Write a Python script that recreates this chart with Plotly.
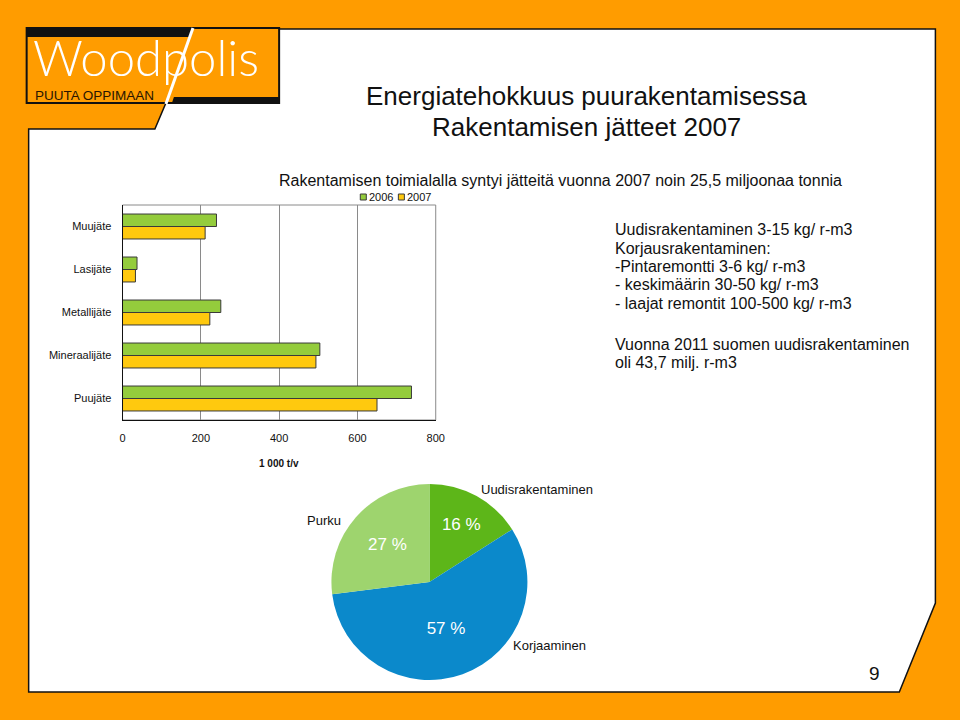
import plotly.graph_objects as go

W, H = 960, 720
# compensation for the slight horizontal squeeze seen in the rendered photo
X0, KX = 2.4, 0.9856

def px(x):
    return (x - X0) / KX / W

def py(y):
    return 1 - y / H

# ---------------- data ----------------
categories = ["Muujäte", "Lasijäte", "Metallijäte", "Mineraalijäte", "Puujäte"]
values_2006 = [240, 37, 251, 504, 738]
values_2007 = [211, 33, 223, 494, 650]
x_ticks = [0, 200, 400, 600, 800]
series_names = ["2006", "2007"]

pie_labels = ["Uudisrakentaminen", "Korjaaminen", "Purku"]
pie_values = [16, 57, 27]
pie_text = ["16 %", "57 %", "27 %"]

title_lines = ["Energiatehokkuus puurakentamisessa", "Rakentamisen jätteet 2007"]
subtitle = "Rakentamisen toimialalla syntyi jätteitä vuonna 2007 noin 25,5 miljoonaa tonnia"
info_lines = [
    "Uudisrakentaminen 3-15 kg/ r-m3",
    "Korjausrakentaminen:",
    "-Pintaremontti 3-6 kg/ r-m3",
    "- keskimäärin 30-50 kg/ r-m3",
    "- laajat remontit 100-500 kg/ r-m3",
    "",
    "Vuonna 2011 suomen uudisrakentaminen",
    "oli 43,7 milj. r-m3",
]

ORANGE = "#FF9C00"
GREEN = "#94CC3C"
YELLOW = "#FFC90E"
FONT = "Liberation Sans, Arial, sans-serif"

fig = go.Figure()

fig.add_trace(go.Bar(
    y=categories, x=values_2006, name=series_names[0], orientation="h",
    marker=dict(color=GREEN, line=dict(color="#3a3a3a", width=1)), showlegend=False,
))
fig.add_trace(go.Bar(
    y=categories, x=values_2007, name=series_names[1], orientation="h",
    marker=dict(color=YELLOW, line=dict(color="#3a3a3a", width=1)), showlegend=False,
))

fig.add_trace(go.Pie(
    labels=pie_labels, values=pie_values, text=pie_text,
    textinfo="text", textposition="inside", insidetextorientation="horizontal",
    insidetextfont=dict(color="white", size=17, family=FONT),
    marker=dict(colors=["#5DB619", "#0B89CB", "#9ED46E"], line=dict(width=0)),
    sort=False, direction="clockwise", rotation=0, showlegend=False,
    hole=0,
    domain=dict(x=[px(428 - 98), px(428 + 98)], y=[py(582 + 98), py(582 - 98)]),
))

def poly(points):
    return "M " + " L ".join(f"{px(x):.5f},{py(y):.5f}" for x, y in points) + " Z"

shapes = []
# white content area with dark outline
pts = [(28, 129), (154, 129), (165, 103), (278, 103), (278, 29), (933, 29),
       (933, 603), (897, 692), (28, 692)]
shapes.append(dict(type="path", xref="paper", yref="paper", path=poly(pts),
                   fillcolor="white", line=dict(color="#111111", width=1.5), layer="below"))

# logo box
shapes.append(dict(type="rect", xref="paper", yref="paper",
                   x0=px(26), x1=px(278), y0=py(103), y1=py(28),
                   fillcolor=ORANGE, line=dict(color="#111111", width=2), layer="below"))
# thick top band (left)
shapes.append(dict(type="path", xref="paper", yref="paper",
                   path=poly([(26, 28), (192, 28), (189, 37), (26, 37)]),
                   fillcolor="#111111", line=dict(width=0), layer="below"))
# thick bottom band (right)
shapes.append(dict(type="path", xref="paper", yref="paper",
                   path=poly([(173, 97), (278, 97), (278, 103), (171, 103)]),
                   fillcolor="#111111", line=dict(width=0), layer="below"))
# white diagonal stroke
shapes.append(dict(type="line", xref="paper", yref="paper",
                   x0=px(192), y0=py(28), x1=px(165), y1=py(104),
                   line=dict(color="white", width=3), layer="below"))

# bar chart frame (top/right grey)
shapes.append(dict(type="rect", xref="x domain", yref="y domain", x0=0, x1=1, y0=0, y1=1,
                   line=dict(color="#8a8a8a", width=1), layer="below"))

# manual legend squares
for (sx, col) in [(362, GREEN), (400, YELLOW)]:
    shapes.append(dict(type="rect", xref="paper", yref="paper",
                       x0=px(sx - 3), x1=px(sx + 3), y0=py(200), y1=py(194),
                       fillcolor=col, line=dict(color="#3a3a3a", width=1)))

annotations = []
# legend texts
for name, sx in zip(series_names, [366, 404]):
    annotations.append(dict(text=name, x=px(sx), y=py(197), xref="paper", yref="paper",
                            xanchor="left", yanchor="middle", showarrow=False,
                            font=dict(family=FONT, size=11, color="#111111")))

# logo text
annotations.append(dict(text="Woodpolis", x=px(30), y=py(57), xref="paper", yref="paper",
                        xanchor="left", yanchor="middle", showarrow=False,
                        font=dict(family="Lato, " + FONT, size=49, color="white", weight=300)))
annotations.append(dict(text="PUUTA OPPIMAAN", x=px(32), y=py(96), xref="paper", yref="paper",
                        xanchor="left", yanchor="middle", showarrow=False,
                        font=dict(family=FONT, size=13.5, color="#2a1600")))

# titles
for i, t in enumerate(title_lines):
    annotations.append(dict(text=t, x=px(585), y=py(96 + i * 31), xref="paper", yref="paper",
                            xanchor="center", yanchor="middle", showarrow=False,
                            font=dict(family=FONT, size=26, color="#111111")))
annotations.append(dict(text=subtitle, x=px(559), y=py(180), xref="paper", yref="paper",
                        xanchor="center", yanchor="middle", showarrow=False,
                        font=dict(family=FONT, size=16, color="#111111")))

# info text
for i, t in enumerate(info_lines):
    if not t:
        continue
    yy = 230 + i * 18.3 + (4.5 if i >= 6 else 0)
    annotations.append(dict(text=t, x=px(611), y=py(yy), xref="paper", yref="paper",
                            xanchor="left", yanchor="middle", showarrow=False,
                            font=dict(family=FONT, size=16, color="#111111")))

# axis title
annotations.append(dict(text="<b>1 000 t/v</b>", x=px(278), y=py(463), xref="paper", yref="paper",
                        xanchor="center", yanchor="middle", showarrow=False,
                        font=dict(family=FONT, size=10, color="#111111")))

# pie outer labels
for t, (x, y) in zip(pie_labels, [(535, 489), (548, 645), (323, 520)]):
    annotations.append(dict(text=t, x=px(x), y=py(y), xref="paper", yref="paper",
                            xanchor="center", yanchor="middle", showarrow=False,
                            font=dict(family=FONT, size=13, color="#111111")))

# page number
annotations.append(dict(text="9", x=px(872), y=py(673), xref="paper", yref="paper",
                        xanchor="center", yanchor="middle", showarrow=False,
                        font=dict(family=FONT, size=19, color="#111111")))

fig.update_layout(
    width=W, height=H,
    margin=dict(l=0, r=0, t=0, b=0),
    paper_bgcolor=ORANGE,
    plot_bgcolor="rgba(0,0,0,0)",
    barmode="group", bargap=0.42, bargroupgap=0,
    font=dict(family=FONT, color="#111111"),
    shapes=shapes,
    annotations=annotations,
    showlegend=False,
    xaxis=dict(domain=[px(121.7), px(434.3)], range=[0, 800], tickvals=x_ticks,
               showgrid=True, gridcolor="#8a8a8a", gridwidth=1, zeroline=False,
               showline=True, linecolor="#111111", linewidth=1,
               ticks="", ticklabelstandoff=8,
               tickfont=dict(size=11, family=FONT, color="#111111"), fixedrange=True),
    yaxis=dict(domain=[py(420), py(205)], autorange="reversed", type="category",
               showgrid=False, showline=True, linecolor="#111111", linewidth=1,
               ticks="", ticklabelstandoff=8,
               tickfont=dict(size=11, family=FONT, color="#111111"), fixedrange=True),
)

fig.write_html(
    "out.html", config={"displayModeBar": False},
    post_script=("document.documentElement.style.margin='0';"
                 "document.documentElement.style.overflow='hidden';"
                 "document.body.style.margin='0';document.body.style.padding='0';"
                 "document.body.style.overflow='hidden';"),
)
